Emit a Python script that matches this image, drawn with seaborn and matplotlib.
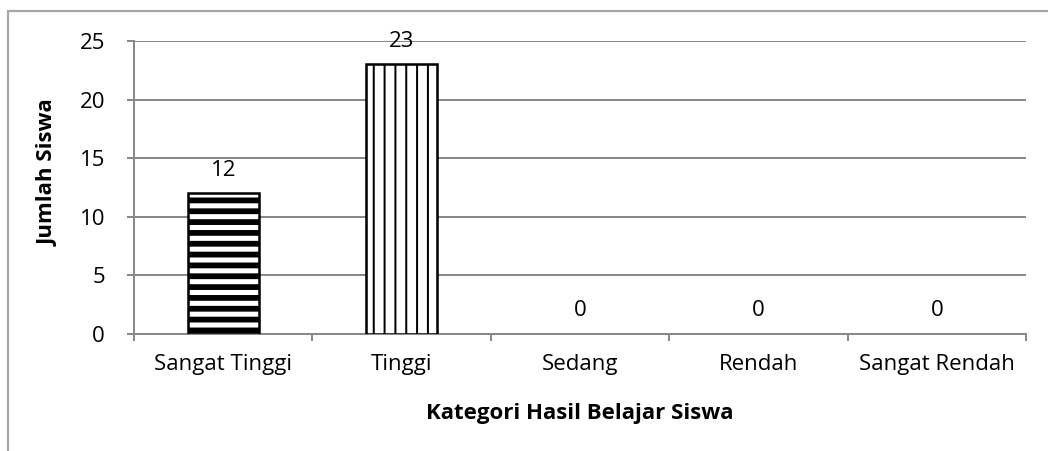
import seaborn as sns
import numpy as np
import pandas as pd
import matplotlib.pyplot as plt
from matplotlib.lines import Line2D

kategori = ['Sangat Tinggi', 'Tinggi', 'Sedang', 'Rendah', 'Sangat Rendah']
jumlah = [12, 23, 0, 0, 0]
hatches = ['--', '||', '', '', '']
hatch_widths = [3.2, 1.1, 1.0, 1.0, 1.0]
y_ticks = [0, 5, 10, 15, 20, 25]

sns.set_theme(style='white')
plt.rcParams['font.family'] = ['Open Sans', 'DejaVu Sans']

DPI = 130
FS = 12.3
fig = plt.figure(figsize=(1048 / DPI, 451 / DPI), dpi=DPI)
ax = fig.add_axes([134 / 1048, 117 / 451, 892 / 1048, 293 / 451])

df = pd.DataFrame({'kategori': kategori, 'jumlah': jumlah})
sns.barplot(data=df, x='kategori', y='jumlah', color='white', width=0.4,
            edgecolor='black', linewidth=1.4, ax=ax, zorder=3)

for patch, h, lw in zip(ax.patches, hatches, hatch_widths):
    patch.set_hatch(h)
    if hasattr(patch, 'set_hatch_linewidth'):
        patch.set_hatch_linewidth(lw)
    if h == '':
        patch.set_visible(False)

grid_color = '#898989'
ax.set_ylim(0, 25)
ax.set_xlim(-0.5, len(kategori) - 0.5)
ax.set_yticks(y_ticks)
ax.yaxis.grid(True, color=grid_color, linewidth=1.1)
ax.set_axisbelow(True)

for side in ['top', 'right']:
    ax.spines[side].set_visible(False)
for side in ['left', 'bottom']:
    ax.spines[side].set_color(grid_color)
    ax.spines[side].set_linewidth(1.1)

ax.set_xticks(np.arange(len(kategori) + 1) - 0.5, minor=True)
ax.tick_params(axis='x', which='major', length=0, pad=11, labelsize=FS, colors='black')
ax.tick_params(axis='x', which='minor', length=4, width=1.1, color=grid_color, direction='out', bottom=True)
ax.tick_params(axis='y', length=4, width=1.1, color=grid_color, direction='out', left=True,
               pad=12, labelsize=FS, labelcolor='black')

for i, v in enumerate(jumlah):
    ax.annotate(str(v), (i, v), xytext=(0, 7), textcoords='offset points',
                ha='center', va='bottom', fontsize=FS, color='black')

ax.set_xlabel('Kategori Hasil Belajar Siswa', fontsize=FS, fontweight='bold', color='black')
ax.set_ylabel('Jumlah Siswa', fontsize=FS, fontweight='bold', color='black')
ax.xaxis.set_label_coords(0.5, -0.235)
ax.yaxis.set_label_coords(-0.084, 0.55)

frame_color = '#a6a6a6'
fig.add_artist(Line2D([8 / 1048, 8 / 1048], [0, 1 - 11 / 451], transform=fig.transFigure,
                      color=frame_color, linewidth=1.2))
fig.add_artist(Line2D([8 / 1048, 1], [1 - 11 / 451, 1 - 11 / 451], transform=fig.transFigure,
                      color=frame_color, linewidth=1.2))

fig.savefig('out.png', dpi=DPI)
